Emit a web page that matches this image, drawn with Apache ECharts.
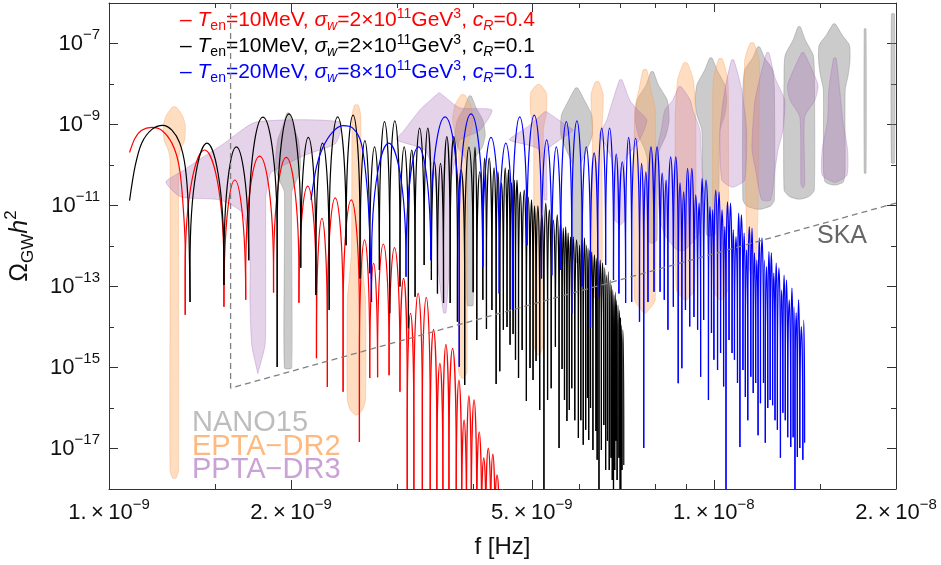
<!DOCTYPE html>
<html>
<head>
<meta charset="utf-8">
<script src="https://cdn.jsdelivr.net/npm/echarts@6/dist/echarts.min.js"></script>
<style>
html, body { margin: 0; padding: 0; background: #fff; }
#main { width: 941px; height: 565px; }
</style>
</head>
<body>
<div id="main"></div>
<script>
// frequency values are log10(f / Hz), spectrum values are log10(Omega_GW h^2)

// axis ticks
const xTickHz = [1e-9, 2e-9, 5e-9, 1e-8, 2e-8];
const xMinorHz = [1.5e-9, 3e-9, 4e-9, 6e-9, 7e-9, 8e-9, 9e-9, 1.5e-8];
const yTickExp = [-17, -15, -13, -11, -9, -7];
const yMinorExp = [-16, -14, -12, -10, -8];

// T_en=10MeV, c_R=0.4 (red)
const redHeadF = [-8.966, -8.957, -8.946, -8.929, -8.913, -8.896, -8.885, -8.879, -8.874, -8.874];
const redHeadY = [-9.69, -9.34, -9.14, -9.07, -9.14, -9.46, -9.96, -10.70, -12.10, -13.70];
const redTroughF = [-8.874, -8.810, -8.774, -8.728, -8.686, -8.657, -8.639, -8.613, -8.586, -8.569,
  -8.556, -8.537, -8.519, -8.507, -8.496, -8.482, -8.469, -8.458, -8.448, -8.438,
  -8.426, -8.417, -8.409, -8.401, -8.392, -8.384, -8.377, -8.369, -8.362, -8.355];
const redTroughY = [-13.70, -13.50, -13.33, -13.15, -13.40, -14.77, -15.48, -15.60, -16.84, -15.26,
  -15.24, -15.19, -15.60, -19, -19, -19, -19, -19, -19, -19,
  -19, -19, -19, -19, -19, -19, -19, -19, -19, -19];
const redPeakY = [-9.63, -10.37, -9.78, -9.81, -10.52, -11.32, -10.81, -10.86, -11.85, -12.43,
  -11.95, -12.04, -12.80, -13.66, -13.17, -13.27, -14.06, -14.90, -14.43, -14.53,
  -15.31, -16.30, -15.70, -15.80, -16.59, -17.23, -16.99, -17.14, -17.65];

// T_en=10MeV, c_R=0.1 (black)
const blackHeadF = [-8.966, -8.957, -8.946, -8.929, -8.911, -8.896, -8.883, -8.874, -8.869, -8.866];
const blackHeadY = [-10.88, -10.04, -9.46, -9.12, -9.02, -9.14, -9.46, -10.04, -11.03, -13.38];
const blackTroughF = [-8.866, -8.810, -8.769, -8.722, -8.683, -8.658, -8.636, -8.608, -8.585, -8.569,
  -8.553, -8.536, -8.519, -8.505, -8.494, -8.479, -8.467, -8.457, -8.447, -8.436,
  -8.424, -8.412, -8.398, -8.392, -8.382, -8.376, -8.367, -8.360, -8.354, -8.348,
  -8.342, -8.337, -8.332, -8.328, -8.323, -8.317, -8.310, -8.304, -8.299, -8.294,
  -8.288, -8.281, -8.275, -8.269, -8.262, -8.256, -8.251, -8.247, -8.243, -8.239,
  -8.235, -8.230, -8.224, -8.220, -8.216, -8.212, -8.209, -8.207, -8.204, -8.200,
  -8.195, -8.193, -8.190, -8.186, -8.182, -8.179, -8.176, -8.173, -8.170, -8.168,
  -8.166, -8.164, -8.162, -8.160, -8.157, -8.155, -8.154, -8.152, -8.149];
const blackTroughY = [-13.38, -12.96, -12.35, -14.99, -12.54, -13.21, -13.58, -11.98, -12.80, -12.67,
  -12.59, -13.66, -13.00, -14.03, -13.25, -12.47, -12.84, -13.17, -13.41, -13.41,
  -13.87, -15.43, -13.14, -14.32, -13.33, -14.05, -13.58, -15.41, -15.09, -14.07,
  -14.00, -14.44, -14.17, -14.81, -15.26, -14.57, -15.83, -15.01, -15.31, -14.84,
  -16.05, -19, -15.80, -15.51, -14.49, -16.99, -15.04, -15.80, -16.32, -16.05,
  -15.51, -16.30, -16.74, -16.30, -16.91, -16.54, -15.75, -16.79, -16.00, -17.04,
  -16.57, -17.28, -19, -17.04, -16.42, -17.53, -16.81, -17.53, -17.23, -17.78,
  -19, -17.53, -16.81, -17.78, -17.23, -19, -19, -17.53, -17.41];
const blackPeakY = [-9.46, -9.55, -8.82, -8.74, -9.32, -9.46, -8.81, -8.77, -9.40, -9.55,
  -8.93, -8.91, -9.55, -9.63, -9.09, -9.09, -9.92, -9.96, -9.30, -9.30,
  -10.12, -9.56, -9.56, -10.17, -9.83, -9.83, -10.07, -10.17, -10.44, -10.07,
  -10.12, -10.44, -10.37, -10.37, -10.67, -10.62, -10.79, -10.86, -11.01, -11.01,
  -11.23, -10.94, -11.11, -11.36, -11.23, -11.41, -11.56, -11.53, -11.68, -11.78,
  -11.78, -11.85, -11.98, -11.85, -11.80, -11.98, -12.05, -12.10, -12.15, -12.22,
  -12.30, -12.40, -12.35, -12.42, -12.54, -12.72, -12.64, -12.84, -12.96, -13.09,
  -13.21, -13.14, -13.33, -13.46, -13.58, -13.78, -13.95, -14.07];

// T_en=20MeV, c_R=0.1 (blue)
const blueHeadF = [-8.666, -8.657, -8.646, -8.630, -8.613, -8.597, -8.583, -8.574, -8.569, -8.566];
const blueHeadY = [-10.86, -10.04, -9.55, -9.18, -9.03, -9.09, -9.46, -10.45, -11.68, -13.38];
const blueTroughF = [-8.566, -8.509, -8.468, -8.421, -8.382, -8.355, -8.333, -8.309, -8.285, -8.268,
  -8.253, -8.235, -8.218, -8.204, -8.192, -8.179, -8.166, -8.157, -8.146, -8.136,
  -8.123, -8.116, -8.109, -8.099, -8.089, -8.082, -8.076, -8.067, -8.059, -8.053,
  -8.047, -8.040, -8.033, -8.027, -8.022, -8.017, -8.009, -8.004, -8.000, -7.994,
  -7.989, -7.984, -7.980, -7.975, -7.970, -7.966, -7.961, -7.957, -7.952, -7.948,
  -7.944, -7.939, -7.935, -7.931, -7.927, -7.923, -7.918, -7.915, -7.911, -7.907,
  -7.903, -7.899, -7.895, -7.890, -7.886, -7.882, -7.878, -7.873, -7.869, -7.866,
  -7.862, -7.858, -7.853, -7.850];
const blueTroughY = [-13.38, -12.76, -12.35, -14.98, -12.51, -13.17, -13.58, -11.98, -12.80, -12.72,
  -12.59, -13.66, -13.00, -14.02, -13.25, -12.47, -12.84, -13.17, -13.41, -13.38,
  -13.87, -16.99, -13.38, -13.13, -13.13, -13.33, -14.07, -13.50, -15.39, -15.02,
  -13.58, -13.99, -13.75, -14.07, -15.23, -13.83, -15.80, -14.15, -14.81, -15.06,
  -14.64, -15.47, -19, -14.32, -14.64, -14.81, -15.38, -16.96, -15.06, -15.73,
  -16.30, -15.23, -15.63, -15.38, -16.67, -15.88, -15.38, -16.86, -16.00, -15.80,
  -15.93, -16.30, -16.54, -17.23, -16.12, -16.30, -16.72, -16.96, -16.72, -19,
  -17.21, -16.99, -17.28, -16.86];
const bluePeakY = [-9.46, -9.55, -8.81, -8.74, -9.32, -9.46, -8.81, -8.77, -9.38, -9.55,
  -8.93, -8.91, -9.55, -9.70, -9.09, -9.09, -9.73, -9.92, -9.32, -9.34,
  -9.96, -10.17, -9.55, -9.55, -10.20, -10.37, -9.80, -9.80, -10.44, -10.66,
  -10.08, -10.08, -10.74, -10.94, -10.33, -10.37, -11.03, -11.11, -10.62, -10.66,
  -11.11, -11.52, -10.91, -10.94, -11.60, -11.77, -11.19, -11.23, -11.68, -12.10,
  -11.52, -11.56, -12.17, -12.35, -11.80, -11.80, -12.35, -12.51, -12.14, -12.17,
  -12.67, -12.42, -12.54, -13.09, -12.72, -12.84, -13.33, -13.04, -13.50, -13.65,
  -13.33, -13.99, -13.83];

// PTA free-spectrum violins: centre frequency, rows [log Omega, left width, right width] in decades of f
const nanoF = [-8.704, -8.403, -8.227, -8.102, -8.005, -7.926, -7.859, -7.801, -7.750, -7.704];
const nanoRows = [
  [[-8.72, .002], [-9.01, .008], [-9.38, .017], [-9.75, .020], [-10.12, .020], [-10.42, .013], [-10.67, .006], [-15.01, .006]],
  [[-8.30, .002], [-8.59, .010], [-8.89, .021], [-9.26, .025], [-9.56, .020], [-9.83, .008], [-10.12, .005], [-13.46, .005]],
  [[-8.10, .002], [-8.40, .013], [-8.77, .025], [-9.26, .026], [-9.63, .017], [-10.00, .007], [-12.22, .007], [-12.40, .002]],
  [[-7.70, .002], [-8.02, .010], [-8.40, .025], [-8.89, .028], [-9.26, .023], [-9.63, .012], [-9.88, .008], [-11.85, .008], [-11.93, .002]],
  [[-7.36, .002], [-7.65, .010], [-8.02, .023], [-8.40, .026], [-8.77, .023], [-9.14, .015], [-10.62, .013], [-10.86, .008], [-11.73, .007]],
  [[-7.09, .002], [-7.36, .010], [-7.65, .023], [-8.15, .026], [-10.86, .026], [-11.01, .020], [-11.09, .004]],
  [[-6.59, .002], [-6.91, .010], [-7.28, .023], [-7.65, .025], [-10.62, .025], [-10.77, .017], [-10.84, .004]],
  [[-6.52, .002], [-6.79, .013], [-7.04, .025], [-7.41, .026], [-7.78, .023], [-8.15, .018], [-10.12, .018], [-10.42, .015], [-10.49, .004]],
  [[-6.64, .0015], [-10.20, .0015]],
  [[-6.27, .0025], [-9.95, .0025]]
];
const eptaF = [-8.892, -8.591, -8.415, -8.290, -8.193, -8.114, -8.047, -7.989, -7.937];
const eptaRows = [
  [[-8.57, .003], [-8.77, .013], [-9.01, .018], [-9.38, .017], [-9.63, .010], [-9.88, .007], [-17.53, .007], [-17.73, .003]],
  [[-8.52, .003], [-8.77, .007], [-12.10, .008], [-12.84, .012], [-13.33, .015], [-15.80, .015], [-16.05, .010], [-16.17, .002]],
  [[-8.27, .003], [-8.52, .013], [-8.89, .017], [-9.26, .012], [-9.63, .007], [-15.10, .007], [-15.26, .002]],
  [[-8.02, .003], [-8.22, .013], [-8.72, .013], [-9.14, .008], [-14.44, .008], [-14.69, .002]],
  [[-7.95, .003], [-8.27, .010], [-9.14, .008], [-13.09, .008], [-13.33, .002]],
  [[-7.65, .003], [-8.15, .010], [-8.64, .017], [-13.33, .017], [-13.65, .002]],
  [[-7.48, .003], [-7.90, .013], [-8.89, .017], [-13.09, .015], [-13.33, .002]],
  [[-7.38, .003], [-7.90, .012], [-8.89, .013], [-13.09, .012], [-13.33, .002]],
  [[-6.99, .003], [-7.41, .012], [-8.40, .012], [-12.35, .008], [-12.67, .002]]
];
const pptaF = [-8.754, -8.455, -8.278, -8.154, -8.056, -7.969, -7.911, -7.853, -7.800];
const pptaRows = [
  [[-8.94, .003, .136], [-9.46, .055, .129], [-9.75, .085, .079], [-10.17, .127, .023], [-10.42, .152, .017], [-10.79, .127, .013],
   [-10.86, .063, .013], [-11.19, .025, .013], [-12.35, .013, .013], [-13.33, .013, .013], [-14.44, .010, .012], [-15.15, 0, 0]],
  [[-8.22, 0, .002], [-8.59, .028, .035], [-8.64, .031, .088], [-9.14, .057, .068], [-9.38, .069, .035], [-9.63, .023, .031],
   [-10.37, .005, .021], [-12.35, .002, .018], [-13.65, -.008, .012]],
  [[-8.69, .002, .002], [-9.01, .026, .033], [-9.14, .038, .045], [-9.38, .060, .023], [-9.63, .010, .003], [-10.86, .002, .002]],
  [[-7.90, .002, .002], [-8.40, .013, .015], [-8.64, .018, .028], [-8.89, .023, .043], [-9.26, .035, .035], [-9.51, .025, .025],
   [-9.88, .015, .007], [-11.36, .010, .007], [-11.48, 0, 0]],
  [[-8.07, .002, .002], [-8.40, .012, .017], [-8.64, .025, .021], [-9.14, .031, .033], [-9.63, .038, .035], [-10.86, .036, .038],
   [-11.36, .033, .035], [-11.73, .025, .030], [-12.10, .005, .008]],
  [[-7.41, .002, .002], [-8.15, .013, .015], [-9.14, .021, .023], [-10.37, .018, .020], [-10.54, .003, .003]],
  [[-7.23, .002, .002], [-7.85, .013, .012], [-8.40, .021, .028], [-9.14, .025, .025], [-9.63, .026, .017], [-10.12, .020, .012], [-10.86, .010, .005]],
  [[-7.23, .002, .002], [-8.02, .025, .025], [-8.40, .021, .020], [-8.81, .005, .003], [-10.49, .003, .003], [-10.57, 0, 0]],
  [[-7.36, .002, .002], [-8.15, .010, .008], [-8.89, .012, .013], [-9.63, .021, .021], [-10.25, .021, .020], [-10.42, .003, .003]]
];

// SKA sensitivity (dashed)
const skaF = [-8.799, -8.799, -7.699];
const skaY = [-6.0, -15.51, -10.94];

const legendText = [
  '{n|– }{i|T}{sb|en}{n|=10MeV, }{i|σ}{sbi|w}{n|=2×10}{sp|11}{n|GeV}{sp|3}{n|, }{i|c}{sbi|R}{n|=0.4}',
  '{n|– }{i|T}{sb|en}{n|=10MeV, }{i|σ}{sbi|w}{n|=2×10}{sp|11}{n|GeV}{sp|3}{n|, }{i|c}{sbi|R}{n|=0.1}',
  '{n|– }{i|T}{sb|en}{n|=20MeV, }{i|σ}{sbi|w}{n|=8×10}{sp|11}{n|GeV}{sp|3}{n|, }{i|c}{sbi|R}{n|=0.1}'
];

const FONT = '"Liberation Sans", Arial, sans-serif';
const FRAME = '#333';
const ARCH = 120; // px height of the arch part of a lobe

function lobes(tf, ty, pk) {
  const out = [];
  for (let i = 0; i < pk.length; i++) out.push([tf[i], tf[i + 1], pk[i], ty[i], ty[i + 1]]);
  return out;
}

function renderLobe(params, api) {
  const a = api.coord([api.value(0), api.value(2)]);
  const b = api.coord([api.value(1), api.value(2)]);
  const ya = api.coord([api.value(0), api.value(3)])[1];
  const yb = api.coord([api.value(1), api.value(4)])[1];
  const yp = a[1], xa = a[0], xb = b[0];
  const xm = (xa + xb) / 2, w = (xb - xa) / 2;
  const hL = Math.max(0, Math.min(ARCH, ya - yp));
  const hR = Math.max(0, Math.min(ARCH, yb - yp));
  const d = 'M' + xa + ',' + ya + 'L' + xa + ',' + (yp + hL) +
    'C' + xa + ',' + (yp + hL * 0.33) + ' ' + (xa + 0.6 * w) + ',' + yp + ' ' + xm + ',' + yp +
    'C' + (xb - 0.6 * w) + ',' + yp + ' ' + xb + ',' + (yp + hR * 0.33) + ' ' + xb + ',' + (yp + hR) +
    'L' + xb + ',' + yb;
  return {
    type: 'path',
    shape: { pathData: d },
    style: { fill: 'none', stroke: api.visual('color'), lineWidth: 1.2 }
  };
}

function violinRender(freqs, rows, fill, stroke) {
  return function (params, api) {
    const c = freqs[params.dataIndex];
    const right = [], left = [];
    rows[params.dataIndex].forEach(function (r) {
      const l = r[1], rr = r.length > 2 ? r[2] : r[1];
      right.push(api.coord([c + rr, r[0]]));
      left.unshift(api.coord([c - l, r[0]]));
    });
    return {
      type: 'polygon',
      shape: { points: right.concat(left), smooth: 0.2 },
      style: { fill: fill, stroke: stroke, lineWidth: 0.8 }
    };
  };
}

function violinSeries(name, freqs, rows, fill, stroke) {
  return {
    name: name, type: 'custom', clip: true, silent: true, z: 1,
    renderItem: violinRender(freqs, rows, fill, stroke),
    encode: { x: 0, y: 1 },
    data: freqs.map(function (f, i) { return [f, rows[i][0][0]]; })
  };
}

function curveSeries(name, color, headF, headY, tf, ty, pk) {
  return [{
    name: name, type: 'line', z: 3, clip: true, silent: true, showSymbol: false, smooth: 0.3,
    lineStyle: { color: color, width: 1.2 }, itemStyle: { color: color },
    data: headF.map(function (f, i) { return [f, headY[i]]; })
  }, {
    name: name, type: 'custom', z: 3, clip: true, silent: true,
    itemStyle: { color: color },
    renderItem: renderLobe,
    encode: { x: [0, 1], y: [2, 3, 4] },
    data: lobes(tf, ty, pk)
  }];
}

const supRich = {
  b: { fontSize: 22, fontFamily: FONT, color: '#111', lineHeight: 32 },
  s: { fontSize: 15, fontFamily: FONT, color: '#111', verticalAlign: 'top', lineHeight: 16 }
};

function xLabel(v) {
  const e = Math.floor(v + 1e-6);
  const m = Math.round(Math.pow(10, v - e));
  return '{b|' + m + '.\u2009×\u200910}{s|−' + (-e) + '}';
}
function yLabel(v) {
  return '{b|10}{s|−' + (-v) + '}';
}

const xMin = Math.log10(xTickHz[0]), xMax = Math.log10(xTickHz[xTickHz.length - 1]);
const xBase = {
  type: 'value', min: xMin, max: xMax, splitLine: { show: false },
  axisLine: { show: false }, axisLabel: { show: false }
};
const yBase = {
  type: 'value', min: -18, max: -6, splitLine: { show: false },
  axisLine: { show: false }, axisLabel: { show: false }
};
function tick(values, len) {
  return { show: true, inside: true, length: len, customValues: values, lineStyle: { color: FRAME, width: 1 } };
}
const frameLine = { show: true, onZero: false, lineStyle: { color: FRAME, width: 1 } };

const legendRich = {
  n: { fontSize: 21, fontFamily: FONT, lineHeight: 26 },
  i: { fontSize: 21, fontFamily: FONT, fontStyle: 'italic', lineHeight: 26 },
  sb: { fontSize: 14, fontFamily: FONT, verticalAlign: 'bottom', lineHeight: 20 },
  sbi: { fontSize: 14, fontFamily: FONT, fontStyle: 'italic', verticalAlign: 'bottom', lineHeight: 20 },
  sp: { fontSize: 14, fontFamily: FONT, verticalAlign: 'top', lineHeight: 14 }
};
function legendFor(name, idx, color, top) {
  return {
    data: [name], left: 175, top: top, icon: 'none', itemWidth: 0, itemHeight: 0,
    selectedMode: false, padding: 0,
    formatter: function () { return legendText[idx]; },
    textStyle: { color: color, fontFamily: FONT, fontSize: 21, rich: legendRich }
  };
}

const chart = echarts.init(document.getElementById('main'));
chart.setOption({
  animation: false,
  backgroundColor: '#fff',
  grid: { left: 109, right: 45, top: 3, bottom: 76, outerBoundsMode: 'none' },
  legend: [
    legendFor('red', 0, '#ff0000', 7),
    legendFor('black', 1, '#000000', 33),
    legendFor('blue', 2, '#0000ff', 59)
  ],
  xAxis: [
    Object.assign({}, xBase, {
      position: 'bottom', axisLine: frameLine,
      axisTick: tick(xTickHz.map(Math.log10), 9),
      axisLabel: { show: true, customValues: xTickHz.map(Math.log10), formatter: xLabel, margin: 8, rich: supRich },
      name: 'f [Hz]', nameLocation: 'middle', nameGap: 46,
      nameTextStyle: { fontSize: 24, fontFamily: FONT, color: '#111' }
    }),
    Object.assign({}, xBase, { position: 'bottom', axisTick: tick(xMinorHz.map(Math.log10), 5) }),
    Object.assign({}, xBase, { position: 'top', axisLine: frameLine, axisTick: tick(xTickHz.map(Math.log10), 9) }),
    Object.assign({}, xBase, { position: 'top', axisTick: tick(xMinorHz.map(Math.log10), 5) })
  ],
  yAxis: [
    Object.assign({}, yBase, {
      position: 'left', axisLine: frameLine,
      axisTick: tick(yTickExp, 9),
      axisLabel: { show: true, customValues: yTickExp, formatter: yLabel, margin: 9, rich: supRich },
      name: '{o|Ω}{g|GW}{h|h}{s|2}', nameLocation: 'middle', nameGap: 72, nameRotate: 90,
      nameTextStyle: {
        fontFamily: FONT, color: '#111',
        rich: {
          o: { fontSize: 25, fontFamily: FONT, lineHeight: 34 },
          g: { fontSize: 17, fontFamily: FONT, verticalAlign: 'bottom', lineHeight: 27 },
          h: { fontSize: 25, fontFamily: FONT, fontStyle: 'italic', lineHeight: 34 },
          s: { fontSize: 17, fontFamily: FONT, verticalAlign: 'top', lineHeight: 17 }
        }
      }
    }),
    Object.assign({}, yBase, { position: 'left', axisTick: tick(yMinorExp, 5) }),
    Object.assign({}, yBase, { position: 'right', axisLine: frameLine, axisTick: tick(yTickExp, 9) }),
    Object.assign({}, yBase, { position: 'right', axisTick: tick(yMinorExp, 5) })
  ],
  series: [
    violinSeries('NANO15', nanoF, nanoRows, 'rgba(130,130,130,0.42)', 'rgba(120,120,120,0.45)'),
    violinSeries('EPTA-DR2', eptaF, eptaRows, 'rgba(252,170,100,0.40)', 'rgba(245,160,90,0.45)'),
    violinSeries('PPTA-DR3', pptaF, pptaRows, 'rgba(170,110,185,0.30)', 'rgba(160,100,180,0.40)')
  ].concat(
    curveSeries('red', '#ff0000', redHeadF, redHeadY, redTroughF, redTroughY, redPeakY),
    curveSeries('black', '#000000', blackHeadF, blackHeadY, blackTroughF, blackTroughY, blackPeakY),
    curveSeries('blue', '#0000ff', blueHeadF, blueHeadY, blueTroughF, blueTroughY, bluePeakY),
    [{
      name: 'SKA', type: 'line', z: 4, clip: true, silent: true, showSymbol: false,
      lineStyle: { color: '#808080', width: 1.3, type: [6, 4] },
      data: skaF.map(function (f, i) { return [f, skaY[i]]; })
    }]
  ),
  graphic: [
    { type: 'text', x: 842, y: 236, silent: true,
      style: { text: 'SKA', fill: '#666', fontSize: 25, fontFamily: FONT, align: 'center', verticalAlign: 'middle' } },
    { type: 'text', x: 192, y: 423, silent: true,
      style: { text: 'NANO15', fill: '#bdbdbd', fontSize: 29, fontFamily: FONT, verticalAlign: 'middle' } },
    { type: 'text', x: 192, y: 447, silent: true,
      style: { text: 'EPTA\u2212DR2', fill: '#fdb97f', fontSize: 29, fontFamily: FONT, verticalAlign: 'middle' } },
    { type: 'text', x: 192, y: 470, silent: true,
      style: { text: 'PPTA\u2212DR3', fill: '#c9a3d5', fontSize: 29, fontFamily: FONT, verticalAlign: 'middle' } }
  ]
});
</script>
</body>
</html>
